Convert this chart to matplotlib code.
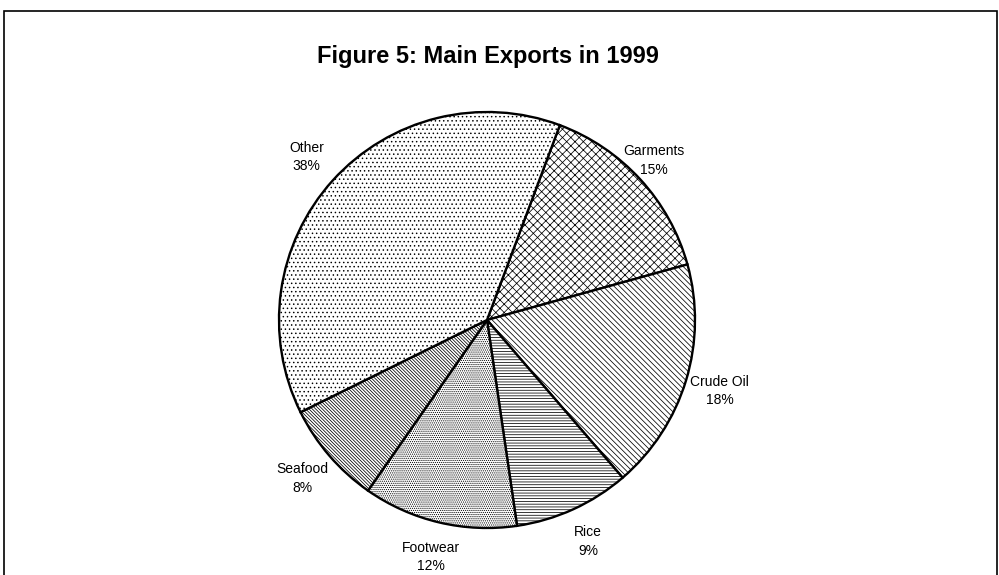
import matplotlib
matplotlib.use("Agg")
import matplotlib.pyplot as plt
from matplotlib.patches import Rectangle

categories = ["Garments", "Crude Oil", "Rice", "Footwear", "Seafood", "Other"]
shares = [15, 18, 9, 12, 8, 38]
patterns = ["xxxx", "\\" * 6, "------", "........", "\\" * 10, "...."]
title = "Figure 5: Main Exports in 1999"

plt.rcParams["font.family"] = ["Liberation Sans", "DejaVu Sans"]
plt.rcParams["hatch.linewidth"] = 0.55

W, H = 999, 575
fig = plt.figure(figsize=(W / 100, H / 100), dpi=100)

# pie centre and radius in pixels
cx, cy, r = 487, 320, 208
ax = fig.add_axes([(cx - r) / W, (H - cy - r) / H, 2 * r / W, 2 * r / H])

labels = [f"{c}\n{v}%" for c, v in zip(categories, shares)]
wedges, texts = ax.pie(
    shares,
    labels=labels,
    startangle=69.5,
    counterclock=False,
    labeldistance=1.17,
    colors=["white"] * len(shares),
    hatch=patterns,
    wedgeprops={"edgecolor": "black", "linewidth": 1.7},
    textprops={"fontsize": 10},
)
for t in texts:
    t.set_horizontalalignment("center")
    t.set_verticalalignment("center")
    t.set_linespacing(1.4)

# Garments label sits a bit closer to the rim
gx, gy = texts[0].get_position()
texts[0].set_position((gx * 0.93, gy * 0.97))

ax.set_xlim(-1, 1)
ax.set_ylim(-1, 1)
ax.set_aspect("equal")
ax.axis("off")

fig.text(0.4885, 1 - 56 / H, title, ha="center", va="center",
         fontsize=17, fontweight="bold")

fig.add_artist(Rectangle((4 / W, -0.05), 993 / W, (H - 11) / H + 0.05,
                         transform=fig.transFigure, fill=False,
                         edgecolor="black", linewidth=1.2))

fig.savefig("out.png", dpi=100)
